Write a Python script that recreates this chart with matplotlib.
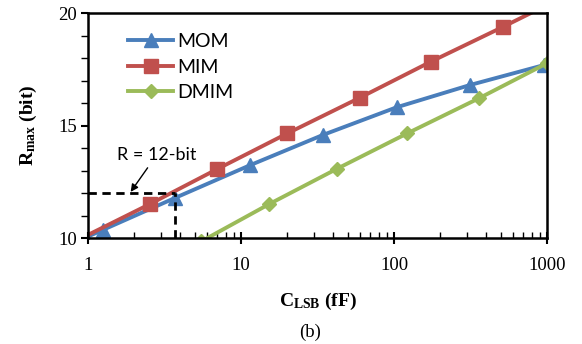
import matplotlib
matplotlib.use('Agg')
import matplotlib.pyplot as plt
from matplotlib.ticker import LogLocator, MultipleLocator, NullFormatter

plt.rcParams['mathtext.fontset'] = 'custom'
plt.rcParams['mathtext.rm'] = 'Liberation Serif'
plt.rcParams['mathtext.bf'] = 'Liberation Serif:bold'
plt.rcParams['mathtext.it'] = 'Liberation Serif:italic'

# data (first point of each series lies outside the axes, clipped)
mom_x = [0.41, 1.25, 3.7, 11.5, 34.3, 104, 314, 960]
mom_y = [8.9, 10.36, 11.78, 13.24, 14.58, 15.81, 16.8, 17.69]
mim_x = [0.88, 2.54, 6.93, 20.1, 60, 174.5, 518, 1500]
mim_y = [9.95, 11.51, 13.05, 14.65, 16.24, 17.84, 19.39, 20.95]
dmim_x = [5.5, 15.3, 42.2, 122, 359, 995]
dmim_y = [9.85, 11.51, 13.07, 14.65, 16.21, 17.76]

guide_x = 3.7
guide_y = 12

blue = '#4A7EBB'
red = '#C0504D'
green = '#9BBB59'

fig = plt.figure(figsize=(5.82, 3.44), dpi=100)
ax = fig.add_axes([0.1512, 0.3081, 0.7887, 0.6541])

ax.plot(mom_x, mom_y, color=blue, lw=2.8, marker='^', ms=10.5, label='MOM')
ax.plot(mim_x, mim_y, color=red, lw=2.8, marker='s', ms=9.5, label='MIM')
ax.plot(dmim_x, dmim_y, color=green, lw=2.8, marker='D', ms=7.5, label='DMIM')

# 12-bit guide lines
ax.plot([1, guide_x], [guide_y, guide_y], color='black', lw=2, ls=(0, (3, 2)))
ax.plot([guide_x, guide_x], [10, guide_y], color='black', lw=2, ls=(0, (3, 2)))
ax.annotate('R = 12-bit', xy=(1.9, 12.05), xytext=(1.55, 13.7),
            fontsize=13, family='Lato', ha='left', va='center',
            arrowprops=dict(arrowstyle='-|>', color='black', lw=1, mutation_scale=11,
                            shrinkA=2, shrinkB=0))

ax.set_xscale('log')
ax.set_xlim(1, 1000)
ax.set_ylim(10, 20)
ax.set_xticks([1, 10, 100, 1000])
ax.set_xticklabels(['1', '10', '100', '1000'])
ax.xaxis.set_minor_locator(LogLocator(base=10, subs=range(2, 10)))
ax.xaxis.set_minor_formatter(NullFormatter())
ax.set_yticks([10, 15, 20])
ax.yaxis.set_minor_locator(MultipleLocator(1))

ax.tick_params(axis='x', which='major', direction='inout', length=8, width=1.5, pad=10)
ax.tick_params(axis='x', which='minor', direction='in', length=4, width=1)
ax.tick_params(axis='y', which='major', direction='out', length=5, width=1.5, pad=3)
ax.tick_params(axis='y', which='minor', direction='out', length=5, width=1)
for lab in ax.get_xticklabels() + ax.get_yticklabels():
    lab.set_family('Liberation Serif')
    lab.set_fontsize(13.5)
for s in ax.spines.values():
    s.set_linewidth(1.8)

ax.set_xlabel(r'$\mathbf{C_{LSB}}$ (fF)', family='Liberation Serif', fontweight='bold',
              fontsize=14, labelpad=12)
ax.set_ylabel(r'$\mathbf{R_{max}}$ (bit)', family='Liberation Serif', fontweight='bold',
              fontsize=14, labelpad=14)

ax.legend(loc='upper left', bbox_to_anchor=(0.05, 0.99), frameon=False,
          prop={'family': 'Lato', 'size': 14}, handlelength=2.3, labelspacing=0.45,
          handletextpad=0.2)

fig.text(0.533, 0.02, '(b)', family='Liberation Serif', fontsize=13.5, ha='center')

fig.savefig('out.png', dpi=100)
